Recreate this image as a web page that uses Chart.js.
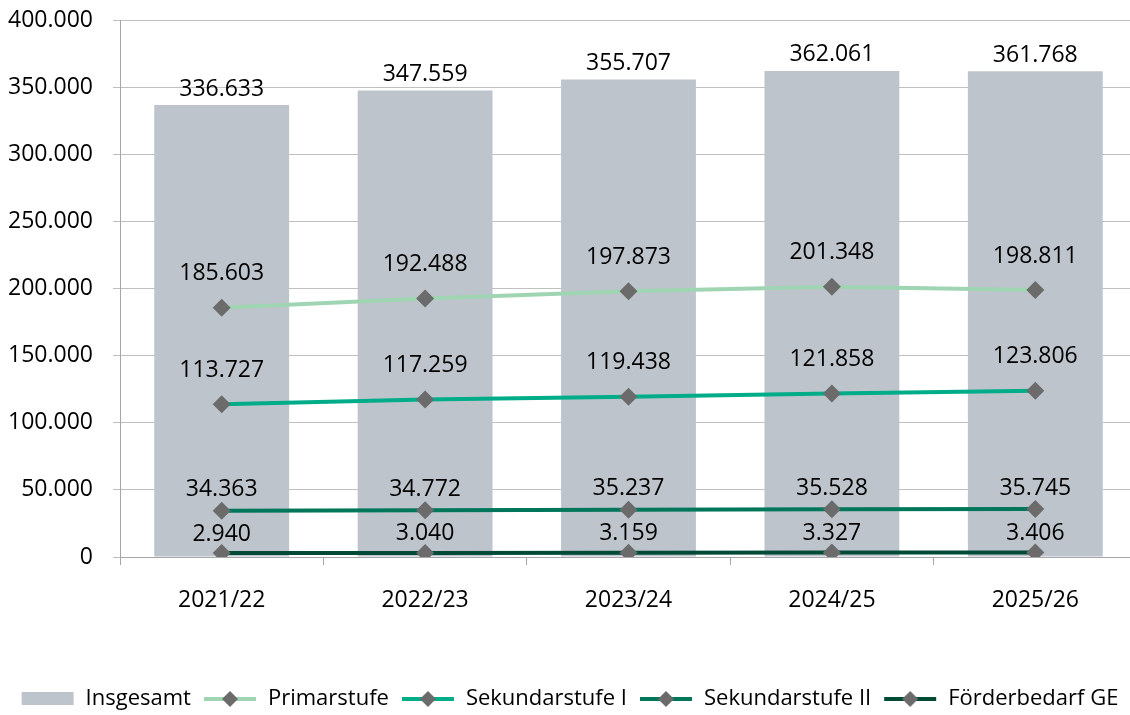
<!DOCTYPE html>
<html>
<head>
<meta charset="utf-8">
<script src="https://cdn.jsdelivr.net/npm/chart.js@4/dist/chart.umd.min.js"></script>
<style>
  html, body { margin: 0; padding: 0; background: #fff; overflow: hidden; }
  #wrap { width: 1146px; height: 715px; }
</style>
</head>
<body>
<div id="wrap"><canvas id="myChart1" width="1146" height="715"></canvas></div>
<script>
// school years
const years = ['2021/22', '2022/23', '2023/24', '2024/25', '2025/26'];

// pupils per school year
const insgesamt = [336633, 347559, 355707, 362061, 361768];
const primarstufe = [185603, 192488, 197873, 201348, 198811];
const sekundarstufe1 = [113727, 117259, 119438, 121858, 123806];
const sekundarstufe2 = [34363, 34772, 35237, 35528, 35745];
const foerderbedarf = [2940, 3040, 3159, 3327, 3406];

const yTicks = [0, 50000, 100000, 150000, 200000, 250000, 300000, 350000, 400000];

const FONT = '"Open Sans", "Noto Sans", sans-serif';
const markerColor = '#6b6b6b';

function fmt(v) {
    return String(Math.round(v)).replace(/\B(?=(\d{3})+(?!\d))/g, '.');
}

// small pictures for the legend (bar box, line with diamond)
function legendIcon(kind, color) {
    const c = document.createElement('canvas');
    c.width = 54;
    c.height = 16;
    const g = c.getContext('2d');
    if (kind === 'bar') {
        g.fillStyle = color;
        g.fillRect(1, 1, 52, 13);
    } else {
        g.strokeStyle = color;
        g.lineWidth = 4;
        g.beginPath();
        g.moveTo(1, 8);
        g.lineTo(53, 8);
        g.stroke();
        g.fillStyle = markerColor;
        g.beginPath();
        g.moveTo(27 - 8, 8);
        g.lineTo(27, 0);
        g.lineTo(27 + 8, 8);
        g.lineTo(27, 16);
        g.closePath();
        g.fill();
    }
    return c;
}

// value labels above bars and points
const valueLabels = {
    id: 'valueLabels',
    afterDatasetsDraw(chart) {
        const ctx = chart.ctx;
        ctx.save();
        ctx.font = '23px ' + FONT;
        ctx.fillStyle = '#000';
        ctx.textAlign = 'center';
        ctx.textBaseline = 'middle';
        chart.data.datasets.forEach((ds, i) => {
            const meta = chart.getDatasetMeta(i);
            meta.data.forEach((el, j) => {
                ctx.fillText(fmt(ds.data[j]), el.x, el.y + ds.labelOffset);
            });
        });
        ctx.restore();
    }
};

function lineSet(label, data, color, offset) {
    return {
        type: 'line',
        label: label,
        data: data,
        borderColor: color,
        backgroundColor: color,
        borderWidth: 4,
        pointStyle: 'rectRot',
        pointRadius: 9,
        pointBackgroundColor: markerColor,
        pointBorderColor: markerColor,
        pointBorderWidth: 0,
        tension: 0,
        fill: false,
        order: 0,
        labelOffset: offset
    };
}

const datasets = [
    {
        type: 'bar',
        label: 'Insgesamt',
        data: insgesamt,
        backgroundColor: '#bec4cc',
        barPercentage: 0.663,
        categoryPercentage: 1.0,
        order: 1,
        labelOffset: -16
    },
    lineSet('Primarstufe', primarstufe, '#a0d5b4', -34),
    lineSet('Sekundarstufe I', sekundarstufe1, '#00ad88', -34),
    lineSet('Sekundarstufe II', sekundarstufe2, '#00765a', -21),
    lineSet('Förderbedarf GE', foerderbedarf, '#004a36', -19)
];

const icons = [
    legendIcon('bar', '#bec4cc'),
    legendIcon('line', '#a0d5b4'),
    legendIcon('line', '#00ad88'),
    legendIcon('line', '#00765a'),
    legendIcon('line', '#004a36')
];

var ctx = document.getElementById('myChart1').getContext('2d');
var school_chart = new Chart(ctx, {
    data: {
        labels: years,
        datasets: datasets
    },
    options: {
        responsive: false,
        animation: false,
        layout: {
            padding: { left: 0, right: 7, top: 20, bottom: -5 }
        },
        plugins: {
            tooltip: { enabled: false },
            legend: {
                position: 'bottom',
                labels: {
                    usePointStyle: true,
                    pointStyleWidth: 54,
                    boxHeight: 16,
                    padding: 12,
                    color: '#000',
                    font: { family: FONT, size: 22 },
                    generateLabels(chart) {
                        const items = Chart.defaults.plugins.legend.labels.generateLabels(chart);
                        items.sort((a, b) => a.datasetIndex - b.datasetIndex);
                        items.forEach(it => {
                            it.pointStyle = icons[it.datasetIndex];
                            it.rotation = 0;
                        });
                        return items;
                    }
                }
            }
        },
        scales: {
            x: {
                offset: true,
                grid: {
                    offset: true,
                    drawOnChartArea: false,
                    tickLength: 8,
                    color: '#a6a6a6'
                },
                border: { color: '#a6a6a6' },
                ticks: {
                    color: '#000',
                    padding: 22,
                    font: { family: FONT, size: 23 }
                },
                afterFit(scale) { scale.height = 119; }
            },
            y: {
                min: 0,
                max: 400000,
                afterBuildTicks(scale) {
                    scale.ticks = yTicks.map(v => ({ value: v }));
                },
                grid: {
                    color: '#c0c0c0',
                    tickLength: 7
                },
                border: { color: '#a6a6a6' },
                ticks: {
                    color: '#000',
                    padding: 20,
                    font: { family: FONT, size: 23 },
                    callback: v => fmt(v)
                },
                afterFit(scale) {
                    scale.width = 120;
                    scale.paddingTop = 0;
                    scale.paddingBottom = 0;
                }
            }
        }
    },
    plugins: [valueLabels]
});
</script>
</body>
</html>
